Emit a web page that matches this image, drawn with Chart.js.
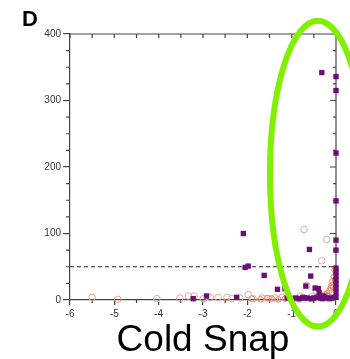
<!DOCTYPE html>
<html>
<head>
<meta charset="utf-8">
<script src="https://cdn.jsdelivr.net/npm/chart.js@4/dist/chart.umd.min.js"></script>
<style>
  html, body { margin: 0; padding: 0; background: #fff; }
  #wrap { width: 350px; height: 359px; }
</style>
</head>
<body>
<div id="wrap"><canvas id="chartColdSnap" width="350" height="359"></canvas></div>
<script>
// Datos (log2 fold change vs. significancia)
const xTicks = [-6, -5, -4, -3, -2, -1, 0];
const yTicks = [0, 100, 200, 300, 400];
const umbralY = 50;

// Cuadrados morados
const cuadX = [-0.32, 0, 0, 0, 0, 0, 0, 0, 0, 0, 0, 0, 0, 0, 0,
    -2.09, -0.6, -2.05, -1.98, -1.62, -0.57, -1.32, -1.15, -0.68, -0.47, -0.4, -0.38,
    -3.22, -2.92, -2.24, -1.1, -1.0, -0.9, -0.82, -0.75, -0.65, -0.55, -0.5, -0.42,
    -0.35, -0.3, -0.25, -0.2, -0.15, -0.1, -0.05, -0.72, -0.28];
const cuadY = [342, 336, 315, 221, 149, 90, 75, 48, 42, 36, 30, 24, 18, 11, 4,
    100, 76, 49, 51, 37, 36, 16, 17, 21, 18, 17, 11,
    2, 6, 4, 3, 2, 3, 2, 4, 3, 2, 3, 4,
    3, 2, 4, 3, 2, 3, 4, 3, 6];

// Círculos huecos (salmón)
const circX = [-0.72, -0.21, -0.32, -5.5, -4.92, -4.04, -3.52, -3.33, -3.2, -2.99, -2.84,
    -2.66, -2.46, -2.35, -2.17, -1.98, -1.87, -1.67, -1.49, -1.38, -1.22, -1.04,
    -0.81, -0.66, -0.54, -0.45];
const circY = [106, 91, 59, 4, 1, 2, 3, 6, 6, 2, 4,
    4, 4, 2, 3, 8, 2, 3, 2, 3, 4, 3,
    6, 22, 5, 14];

// Círculos naranjas (zona densa cerca de 0)
const naranjaX = [-1.9, -1.7, -1.55, -1.45, -1.3, -1.15, -0.95, -0.85, -0.7, -0.6,
    -0.5, -0.4, -0.35, -0.3, -0.25, -0.2, -0.18, -0.15, -0.12, -0.1, -0.08, -0.06,
    -0.05, -0.03, -0.02];
const naranjaY = [2, 1, 3, 2, 1, 2, 2, 1, 3, 2,
    3, 4, 5, 6, 8, 10, 6, 14, 18, 22, 28, 20,
    35, 45, 30];

const toPoints = (xs, ys) => xs.map((v, i) => ({ x: v, y: ys[i] }));

Chart.defaults.font.family = '"Liberation Sans", Arial, sans-serif';

const COLORES = {
    eje: '#444444',
    morado: '#6b0f73',
    salmon: '#e4a595',
    naranja: '#ee7b55',
    verde: '#80f000'
};

// Marco: ejes superior/derecho y ticks menores
const marcoPlugin = {
    id: 'marco',
    beforeDatasetsDraw(chart) {
        const { ctx, chartArea: a, scales: { x, y } } = chart;
        ctx.save();
        ctx.strokeStyle = COLORES.eje;
        ctx.lineWidth = 1.2;
        ctx.beginPath();
        ctx.moveTo(a.left, a.top); ctx.lineTo(a.right, a.top);
        ctx.moveTo(a.right, a.top); ctx.lineTo(a.right, a.bottom);
        for (let v = -6; v <= 0.001; v += 0.5) {
            const px = x.getPixelForValue(v);
            ctx.moveTo(px, a.top); ctx.lineTo(px, a.top + 4);
            if (Math.abs(v % 1) > 0.01) {
                ctx.moveTo(px, a.bottom); ctx.lineTo(px, a.bottom + 3);
            }
        }
        for (let v = 0; v <= 400; v += 25) {
            const py = y.getPixelForValue(v);
            const mayor = v % 100 === 0;
            ctx.moveTo(a.right, py); ctx.lineTo(a.right - (mayor ? 6 : 3), py);
            if (!mayor) {
                ctx.moveTo(a.left, py); ctx.lineTo(a.left - 4, py);
            }
        }
        ctx.stroke();
        ctx.restore();
    }
};

// Elipse verde y letra del panel
const anotacionPlugin = {
    id: 'anotacion',
    afterDraw(chart) {
        const { ctx, scales: { x, y } } = chart;
        const cx = x.getPixelForValue(-0.41);
        const cy = y.getPixelForValue(190);
        const rx = Math.abs(x.getPixelForValue(-0.41 + 1.08) - cx);
        const ry = Math.abs(y.getPixelForValue(190 + 230) - cy);
        ctx.save();
        ctx.strokeStyle = COLORES.verde;
        ctx.lineWidth = 6;
        ctx.beginPath();
        ctx.ellipse(cx, cy, rx, ry, 0, 0, Math.PI * 2);
        ctx.stroke();
        ctx.fillStyle = '#000';
        ctx.font = 'bold 22px "Liberation Sans", Arial, sans-serif';
        ctx.textBaseline = 'alphabetic';
        ctx.fillText('D', 22, 26);
        ctx.restore();
    }
};

const ctx = document.getElementById('chartColdSnap');
new Chart(ctx, {
    type: 'scatter',
    data: {
        datasets: [
            {
                type: 'line',
                data: [{ x: xTicks[0], y: umbralY }, { x: xTicks[xTicks.length - 1], y: umbralY }],
                borderColor: '#222',
                borderWidth: 1,
                borderDash: [4, 3],
                pointRadius: 0,
                order: 4
            },
            {
                data: toPoints(naranjaX, naranjaY),
                pointStyle: 'circle',
                pointRadius: 2.8,
                borderWidth: 1,
                borderColor: COLORES.naranja,
                backgroundColor: 'rgba(0,0,0,0)',
                clip: false,
                order: 3
            },
            {
                data: toPoints(circX, circY),
                pointStyle: 'circle',
                pointRadius: 3.3,
                borderWidth: 1,
                borderColor: COLORES.salmon,
                backgroundColor: 'rgba(0,0,0,0)',
                clip: false,
                order: 2
            },
            {
                data: toPoints(cuadX, cuadY),
                pointStyle: 'rect',
                pointRadius: 3.8,
                borderWidth: 0,
                backgroundColor: COLORES.morado,
                clip: false,
                order: 1
            }
        ]
    },
    options: {
        responsive: false,
        animation: false,
        layout: { padding: { top: 34, right: 14, left: 0, bottom: 0 } },
        plugins: {
            legend: { display: false },
            tooltip: { enabled: false }
        },
        scales: {
            x: {
                type: 'linear',
                min: -6,
                max: 0,
                afterFit(scale) { scale.height = 59; },
                afterBuildTicks(scale) { scale.ticks = xTicks.map(v => ({ value: v })); },
                ticks: { color: '#333', font: { size: 10 }, padding: 3 },
                grid: { drawOnChartArea: false, tickLength: 5, color: COLORES.eje, lineWidth: 1.2 },
                border: { color: COLORES.eje, width: 1.2 },
                title: {
                    display: true,
                    text: 'Cold Snap',
                    color: '#000',
                    font: { size: 37, lineHeight: 1 },
                    padding: { top: 0, bottom: 0 }
                }
            },
            y: {
                min: 0,
                max: 400,
                afterFit(scale) { scale.width = 70; },
                afterBuildTicks(scale) { scale.ticks = yTicks.map(v => ({ value: v })); },
                ticks: { color: '#333', font: { size: 10 }, padding: 2 },
                grid: { drawOnChartArea: false, tickLength: 7, color: COLORES.eje, lineWidth: 1.2 },
                border: { color: COLORES.eje, width: 1.2 }
            }
        }
    },
    plugins: [marcoPlugin, anotacionPlugin]
});
</script>
</body>
</html>
